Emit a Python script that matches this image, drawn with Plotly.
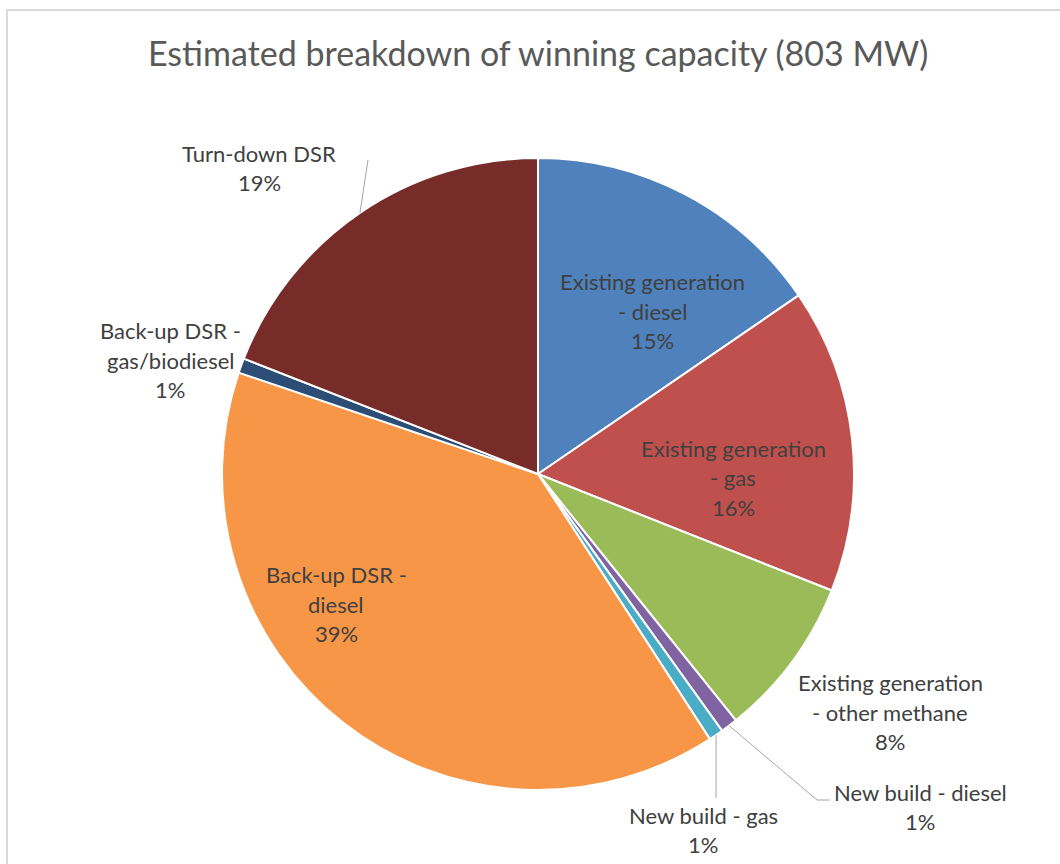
import math
import plotly.graph_objects as go

# Winning capacity by technology, MW (total 803 MW)
categories = [
    "Existing generation - diesel",
    "Existing generation - gas",
    "Existing generation - other methane",
    "New build - diesel",
    "New build - gas",
    "Back-up DSR - diesel",
    "Back-up DSR - gas/biodiesel",
    "Turn-down DSR",
]
capacity_mw = [124, 125, 66, 7, 6, 316, 6, 153]

# Label text split over lines (last line is the percentage)
label_lines = [
    ["Existing generation", "- diesel"],
    ["Existing generation", "- gas"],
    ["Existing generation", "- other methane"],
    ["New build - diesel"],
    ["New build - gas"],
    ["Back-up DSR -", "diesel"],
    ["Back-up DSR -", "gas/biodiesel"],
    ["Turn-down DSR"],
]

colors = ["#4F81BD", "#C0504D", "#9BBB59", "#8064A2",
          "#4BACC6", "#F79646", "#2C4D75", "#772C2A"]

W, H = 1060, 864
CX, CY, R = 538, 474, 316          # pie centre and radius in pixels
LINE_H = 29.5                      # label line spacing
LABEL_FONT = dict(family="Lato, Carlito, sans-serif", size=22, color="#404040")

# label block centres (pixels)
label_pos = [(652, 311), (733, 478), (890, 712), (920, 807),
             (703, 830), (336, 604), (170, 360), (259, 168)]

# leader line end points for labels placed away from their slice
leaders = {3: [(817, 800), (830, 800)],
           4: [None, (0, 798)],
           7: [(368, 160)]}


def px(x):
    return x / W


def py(y):
    return 1 - y / H


fig = go.Figure(go.Pie(
    labels=categories,
    values=capacity_mw,
    sort=False,
    direction="clockwise",
    rotation=0,
    textinfo="none",
    hoverinfo="label+value+percent",
    marker=dict(colors=colors, line=dict(color="white", width=2)),
    domain=dict(x=[px(CX - R), px(CX + R)], y=[py(CY + R), py(CY - R)]),
    showlegend=False,
))

total = sum(capacity_mw)
annotations = []
shapes = []
cum = 0
for i, v in enumerate(capacity_mw):
    mid = (cum + v / 2) / total * 2 * math.pi
    cum += v
    pct = round(v / total * 100)
    lines = label_lines[i] + [f"{pct}%"]
    lx, ly = label_pos[i]
    top = ly - (len(lines) - 1) * LINE_H / 2
    for k, t in enumerate(lines):
        annotations.append(dict(
            x=px(lx), y=py(top + k * LINE_H), xref="paper", yref="paper",
            text=t, showarrow=False, xanchor="center", yanchor="middle",
            font=LABEL_FONT,
        ))
    if i in leaders:
        sx = CX + R * math.sin(mid)
        sy = CY - R * math.cos(mid)
        pts = [(sx, sy)]
        for p in leaders[i]:
            if p is None:
                continue
            if p[0] == 0:
                p = (sx, p[1])
            pts.append(p)
        path = "M " + " L ".join(f"{px(a)},{py(b)}" for a, b in pts)
        shapes.append(dict(type="path", xref="paper", yref="paper", path=path,
                           line=dict(color="#A6A6A6", width=1)))

# chart area border
shapes.append(dict(type="rect", xref="paper", yref="paper",
                   x0=px(7), x1=px(W + 20), y0=py(H + 20), y1=py(10),
                   line=dict(color="#D9D9D9", width=2), fillcolor="rgba(0,0,0,0)"))

annotations.append(dict(
    x=px(538), y=py(52), xref="paper", yref="paper", showarrow=False,
    text="Estimated breakdown of winning capacity (803 MW)",
    xanchor="center", yanchor="middle",
    font=dict(family="Lato, Carlito, sans-serif", size=34, color="#595959"),
))

fig.update_layout(
    width=W, height=H,
    margin=dict(l=0, r=0, t=0, b=0),
    paper_bgcolor="white",
    plot_bgcolor="white",
    annotations=annotations,
    shapes=shapes,
)

fig.write_html("out.html")
